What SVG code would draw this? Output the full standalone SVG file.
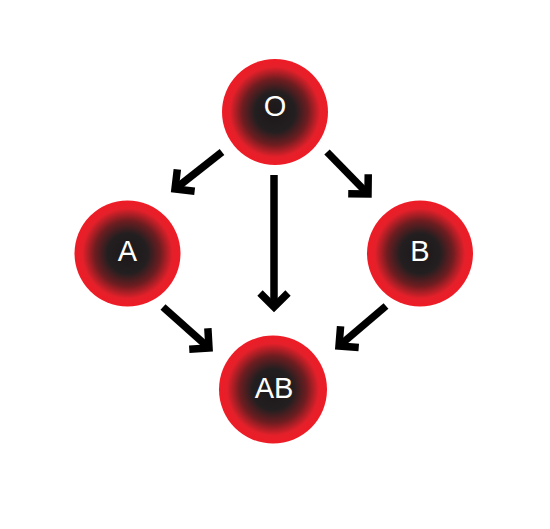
<svg xmlns="http://www.w3.org/2000/svg" width="550" height="529" viewBox="0 0 550 529">
  <defs>
    <radialGradient id="cell" cx="0.5" cy="0.5" r="0.5">
      <stop offset="0" stop-color="#1c1819"/>
      <stop offset="0.38" stop-color="#231f20"/>
      <stop offset="0.62" stop-color="#6e1d20"/>
      <stop offset="0.85" stop-color="#e4202a"/>
      <stop offset="1" stop-color="#ee1c26"/>
    </radialGradient>
    <marker id="head" viewBox="-20 -20 40 40" markerWidth="40" markerHeight="40" refX="0" refY="0" markerUnits="userSpaceOnUse" orient="auto">
      <path d="M -14 -14 L 0 0 L -14 14" fill="none" stroke="#000" stroke-width="7.5" stroke-linejoin="miter"/>
    </marker>
  </defs>
  <style>
    .cell { fill: url(#cell); }
    .lbl { fill: #ffffff; font-family: "Liberation Sans", Arial, sans-serif; font-size: 29px; text-anchor: middle; }
    .arrow { fill: none; stroke: #000; stroke-width: 7.5; marker-end: url(#head); }
  </style>
  <rect width="550" height="529" fill="#ffffff"/>
  <g id="connectors">
    <path class="arrow" d="M 222 152 L 175 189"/>
    <path class="arrow" d="M 274 175 L 274 307"/>
    <path class="arrow" d="M 327 152 L 368 194"/>
    <path class="arrow" d="M 163 307 L 209 348"/>
    <path class="arrow" d="M 386 306 L 339 346"/>
  </g>
  <g id="node-O">
    <circle class="cell" cx="275" cy="112" r="53"/>
    <text class="lbl" x="275" y="116">O</text>
  </g>
  <g id="node-A">
    <circle class="cell" cx="127.5" cy="253.5" r="53"/>
    <text class="lbl" x="127.5" y="261">A</text>
  </g>
  <g id="node-B">
    <circle class="cell" cx="420" cy="253.5" r="53"/>
    <text class="lbl" x="420" y="261">B</text>
  </g>
  <g id="node-AB">
    <circle class="cell" cx="273" cy="389.5" r="54"/>
    <text class="lbl" x="274" y="398">AB</text>
  </g>
</svg>
